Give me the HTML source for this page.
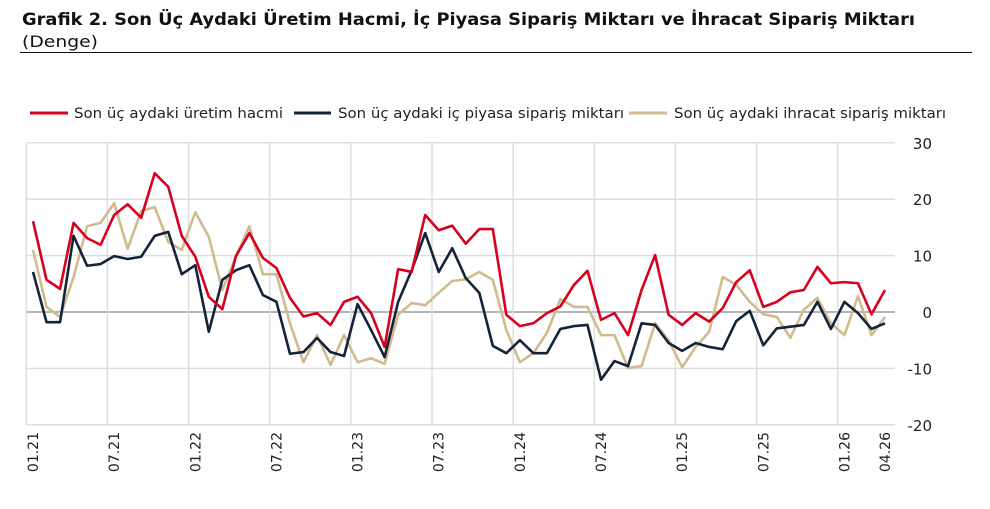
<!DOCTYPE html>
<html><head><meta charset="utf-8"><style>
body{margin:0;background:#fff;width:990px;height:505px;overflow:hidden;font-family:"DejaVu Sans","Liberation Sans",sans-serif}
</style></head><body>
<svg width="990" height="505" xmlns="http://www.w3.org/2000/svg">
<text x="22" y="25" font-size="17" font-weight="bold" fill="#111" textLength="893" lengthAdjust="spacingAndGlyphs">Grafik 2. Son Üç Aydaki Üretim Hacmi, İç Piyasa Sipariş Miktarı ve İhracat Sipariş Miktarı</text>
<text x="22" y="47" font-size="16" fill="#111" textLength="76" lengthAdjust="spacingAndGlyphs">(Denge)</text>
<line x1="20" y1="52.5" x2="972" y2="52.5" stroke="#111" stroke-width="1"/>
<g font-size="14" fill="#222">
<line x1="30" y1="113" x2="68" y2="113" stroke="#d7001f" stroke-width="3"/>
<text x="74" y="118" textLength="209" lengthAdjust="spacingAndGlyphs">Son üç aydaki üretim hacmi</text>
<line x1="294" y1="113" x2="331" y2="113" stroke="#13243a" stroke-width="3"/>
<text x="338" y="118" textLength="286" lengthAdjust="spacingAndGlyphs">Son üç aydaki iç piyasa sipariş miktarı</text>
<line x1="629" y1="113" x2="667" y2="113" stroke="#d2ba8f" stroke-width="3"/>
<text x="674" y="118" textLength="272" lengthAdjust="spacingAndGlyphs">Son üç aydaki ihracat sipariş miktarı</text>
</g>
<g id="grid"></g><g id="lines"></g><g id="labels"></g>
</svg>
<script>
const yTicks=[30,20,10,0,-10,-20];
const xTickIdx=[0,6,12,18,24,30,36,42,48,54,60,63];
const xTickLabels=["01.21","07.21","01.22","07.22","01.23","07.23","01.24","07.24","01.25","07.25","01.26","04.26"];
const production=[16.1,5.7,4.1,15.8,13.1,11.9,17.2,19.1,16.7,24.6,22.2,13.5,9.8,2.7,0.5,9.9,14,9.6,7.8,2.5,-0.8,-0.2,-2.3,1.8,2.7,-0.2,-6.2,7.6,7.1,17.2,14.5,15.3,12.1,14.7,14.7,-0.5,-2.5,-2,-0.2,1,4.8,7.3,-1.4,-0.2,-4.1,3.9,10.1,-0.5,-2.3,-0.2,-1.7,0.7,5.3,7.4,0.9,1.8,3.5,3.9,8,5.1,5.3,5.1,-0.4,3.9];
const domestic=[7.1,-1.8,-1.8,13.5,8.2,8.5,9.9,9.4,9.8,13.5,14.2,6.7,8.3,-3.5,5.7,7.4,8.3,3,1.8,-7.4,-7.1,-4.6,-7.1,-7.8,1.4,-3.2,-8,1.8,7.4,14,7.1,11.3,6,3.4,-6,-7.3,-5,-7.3,-7.3,-3,-2.5,-2.3,-12,-8.7,-9.6,-2,-2.3,-5.5,-6.9,-5.5,-6.2,-6.6,-1.6,0.2,-5.9,-2.9,-2.6,-2.3,1.8,-3,1.8,-0.2,-3,-2];
const exportOrders=[11,0.9,-0.9,6.2,15.2,15.8,19.3,11.2,17.9,18.6,12.4,11,17.7,13.3,3.9,9.8,15.2,6.7,6.7,-2,-8.9,-4.1,-9.4,-4.1,-8.9,-8.2,-9.2,-0.5,1.6,1.2,3.4,5.5,5.8,7.1,5.7,-3.2,-8.9,-7.3,-3.7,2.3,0.9,0.9,-4.1,-4.1,-9.9,-9.6,-2,-5,-9.8,-6.2,-3.5,6.2,4.8,1.8,-0.4,-0.9,-4.6,0.4,2.5,-2,-4.1,2.8,-4.1,-0.9];
const NS="http://www.w3.org/2000/svg";
const X=i=>33+i*13.524, Y=v=>312-v*5.64;
const L=27,R=895;
const g=document.getElementById('grid'),lg=document.getElementById('lines'),lb=document.getElementById('labels');
function mk(t,a,p){const e=document.createElementNS(NS,t);for(const k in a)e.setAttribute(k,a[k]);p.appendChild(e);return e;}
yTicks.forEach(v=>{
 const ln=mk('line',{x1:L,x2:R,y1:Y(v),y2:Y(v),stroke:v===0?'#888':'#dcdcdc','stroke-width':v===0?1.2:1.4},g);
 
 
 const t=mk('text',{x:932,y:Y(v)+6,'text-anchor':'end','font-size':15,fill:'#222'},lb);t.textContent=v;
 
 
});
xTickIdx.forEach((i,k)=>{
 if(k<xTickIdx.length-1){const gl=mk('line',{x1:X(i)-6.7,x2:X(i)-6.7,y1:Y(30),y2:Y(-20),stroke:'#dcdcdc','stroke-width':1.4},g);
 
 }
 const t=mk('text',{x:0,y:0,'text-anchor':'end','font-size':14,fill:'#222',transform:`translate(${X(i)+5},432) rotate(-90)`},lb);t.textContent=xTickLabels[k];
 
 
});
[[exportOrders,'#d2ba8f','export-line'],[domestic,'#13243a','domestic-line'],[production,'#d7001f','production-line']].forEach(([d,c,n])=>{
 const p=mk('polyline',{points:d.map((v,i)=>X(i)+','+Y(v)).join(' '),fill:'none',stroke:c,'stroke-width':2.6,'stroke-linejoin':'round'},lg);
 
 
});
</script>
</body></html>
